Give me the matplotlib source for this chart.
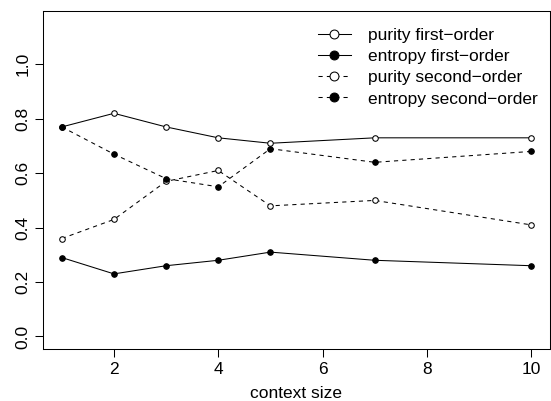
import matplotlib
matplotlib.use("Agg")
import matplotlib.pyplot as plt

plt.rcParams['font.family'] = ['Liberation Sans', 'DejaVu Sans']

# context sizes and scores
context = [1, 2, 3, 4, 5, 7, 10]
purity_first = [0.77, 0.82, 0.77, 0.73, 0.71, 0.73, 0.73]
entropy_first = [0.29, 0.23, 0.26, 0.28, 0.31, 0.28, 0.26]
purity_second = [0.36, 0.43, 0.57, 0.61, 0.48, 0.50, 0.41]
entropy_second = [0.77, 0.67, 0.58, 0.55, 0.69, 0.64, 0.68]

labels = ['purity first\u2212order', 'entropy first\u2212order',
          'purity second\u2212order', 'entropy second\u2212order']

fs = 12.5
fig = plt.figure(figsize=(5.51, 4.01), dpi=100)
ax = fig.add_axes([43 / 551, (401 - 349) / 401, (550 - 43) / 551, (349 - 11) / 401])

lw = 0.75
dash = (0, (4, 4))
ms = 4
ax.plot(context, purity_first, '-', color='black', lw=lw, marker='o', ms=ms,
        mfc='white', mec='black', mew=0.75, label=labels[0])
ax.plot(context, entropy_first, '-', color='black', lw=lw, marker='o', ms=ms,
        mfc='black', mec='black', mew=0.75, label=labels[1])
ax.plot(context, purity_second, linestyle=dash, color='black', lw=lw, marker='o', ms=ms,
        mfc='white', mec='black', mew=0.75, label=labels[2])
ax.plot(context, entropy_second, linestyle=dash, color='black', lw=lw, marker='o', ms=ms,
        mfc='black', mec='black', mew=0.75, label=labels[3])

ax.set_xlim(1 - 0.36, 10 + 0.36)
ax.set_ylim(-0.046, 1.196)
ax.set_xticks([2, 4, 6, 8, 10])
ax.set_yticks([0.0, 0.2, 0.4, 0.6, 0.8, 1.0])
ax.set_yticklabels(['0.0', '0.2', '0.4', '0.6', '0.8', '1.0'], rotation=90, va='center')
ax.tick_params(direction='out', length=6, width=0.75, labelsize=fs, colors='black', pad=3)
for s in ax.spines.values():
    s.set_linewidth(0.75)
ax.set_xlabel('context size', fontsize=fs, labelpad=7)

ax.legend(loc='upper right', frameon=False, fontsize=fs, handlelength=1.9,
          handletextpad=1.0, labelspacing=0.34, markerscale=1.6,
          borderaxespad=0.3, bbox_to_anchor=(1.0, 0.985))

fig.savefig('out.png', dpi=100)
